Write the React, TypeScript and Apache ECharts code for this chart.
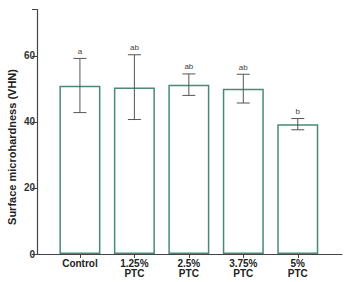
import React, { useEffect, useRef } from "react";
import * as echarts from "echarts";

const categories = ["Control", "1.25%\nPTC", "2.5%\nPTC", "3.75%\nPTC", "5%\nPTC"];
const means = [50.9, 50.4, 51.2, 50.0, 39.3];
const errHigh = [59.2, 60.3, 54.5, 54.4, 41.0];
const errLow = [42.8, 40.7, 48.0, 45.7, 37.6];
const letters = ["a", "ab", "ab", "ab", "b"];
const yTicks = [0, 20, 40, 60];

export default function App() {
  const ref = useRef<HTMLDivElement>(null);
  useEffect(() => {
    const chart = echarts.init(ref.current!, null, { renderer: "svg" });
    const axisColor = "#444";
    const top = 9.5;
    const bottom = 28;
    chart.setOption({
      animation: false,
      backgroundColor: "#fff",
      grid: [
        { left: 37, right: 2, top, bottom },
        { left: 52.7, right: 19, top, bottom },
      ],
      xAxis: [
        {
          type: "value",
          gridIndex: 0,
          min: 0,
          max: 1,
          axisLine: { show: true, lineStyle: { color: axisColor, width: 1.2 } },
          axisTick: { show: false },
          axisLabel: { show: false },
          splitLine: { show: false },
        },
        {
          type: "category",
          gridIndex: 1,
          data: categories,
          axisLine: { show: false },
          axisTick: { show: true, alignWithLabel: true, length: 4, lineStyle: { color: axisColor } },
          axisLabel: {
            fontFamily: "Liberation Sans, Arial, sans-serif",
            fontWeight: "bold",
            fontSize: 10,
            lineHeight: 10,
            color: "#222",
            margin: 4,
            interval: 0,
          },
        },
      ],
      yAxis: [
        {
          type: "value",
          gridIndex: 0,
          min: 0,
          max: 74,
          interval: 20,
          axisLine: { show: true, lineStyle: { color: axisColor, width: 1.2 } },
          axisTick: { show: true, length: 5, lineStyle: { color: axisColor } },
          axisLabel: {
            fontFamily: "Liberation Sans, Arial, sans-serif",
            fontWeight: "bold",
            fontSize: 10,
            color: "#333",
            margin: 2,
            formatter: (v: number) => (yTicks.includes(v) ? String(v) : ""),
          },
          splitLine: { show: false },
        },
        {
          type: "value",
          gridIndex: 1,
          min: 0,
          max: 74,
          interval: 20,
          show: false,
          splitLine: { show: false },
        },
      ],
      graphic: [
        {
          type: "text",
          x: 12,
          y: 147,
          rotation: Math.PI / 2,
          style: {
            text: "Surface microhardness (VHN)",
            fontFamily: "Liberation Sans, Arial, sans-serif",
            fontWeight: "bold",
            fontSize: 11,
            fill: "#222",
            align: "center",
            verticalAlign: "middle",
          },
        },
      ],
      series: [
        {
          type: "bar",
          xAxisIndex: 1,
          yAxisIndex: 1,
          data: means,
          barWidth: 41,
          itemStyle: { color: "#fff", borderColor: "#4a8a72", borderWidth: 1.5 },
          z: 1,
        },
        {
          type: "custom",
          xAxisIndex: 1,
          yAxisIndex: 1,
          data: means.map((_, i) => [i, errLow[i], errHigh[i]]),
          z: 3,
          itemStyle: { color: "#444" },
          renderItem: (params: any, api: any) => {
            const i = api.value(0);
            const hi = api.coord([i, api.value(2)]);
            const lo = api.coord([i, api.value(1)]);
            const x = hi[0];
            const hw = 6.5;
            const st = { stroke: "#555", lineWidth: 1 };
            return {
              type: "group",
              children: [
                { type: "line", shape: { x1: x, y1: hi[1], x2: x, y2: lo[1] }, style: st },
                { type: "line", shape: { x1: x - hw, y1: hi[1], x2: x + hw, y2: hi[1] }, style: st },
                { type: "line", shape: { x1: x - hw, y1: lo[1], x2: x + hw, y2: lo[1] }, style: st },
                {
                  type: "text",
                  x: x,
                  y: hi[1] - 3,
                  style: {
                    text: letters[params.dataIndex],
                    fontFamily: "Liberation Sans, Arial, sans-serif",
                    fontSize: 8,
                    fill: "#444",
                    align: "center",
                    verticalAlign: "bottom",
                  },
                },
              ],
            };
          },
        },
      ],
    });
    return () => chart.dispose();
  }, []);
  return <div ref={ref} style={{ width: 344, height: 282, position: "absolute", left: 0, top: 0 }} />;
}
